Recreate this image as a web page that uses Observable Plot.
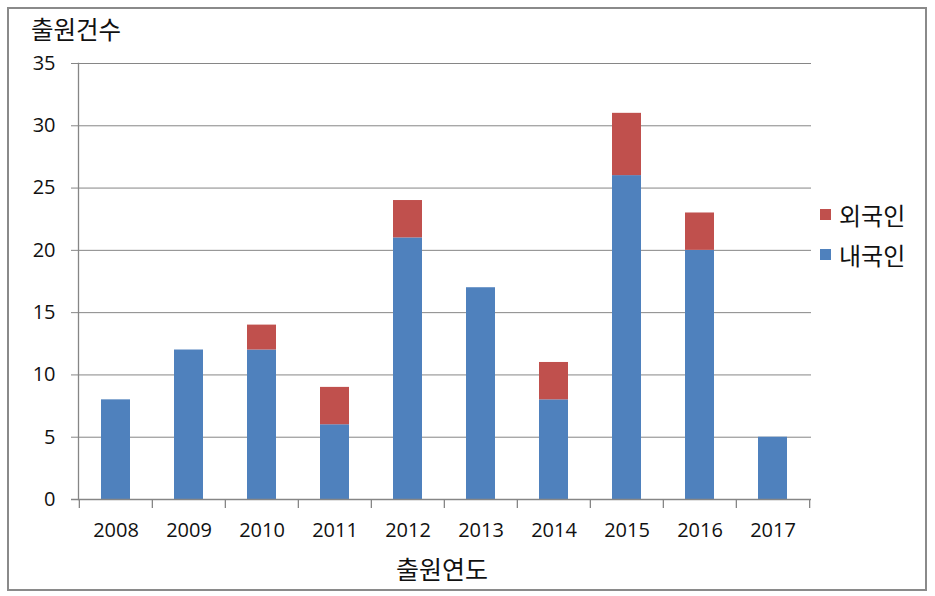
<!DOCTYPE html>
<html><head><meta charset="utf-8">
<script src="https://cdn.jsdelivr.net/npm/d3@7"></script>
<script src="https://cdn.jsdelivr.net/npm/@observablehq/plot@0.6"></script>
<style>
html,body{margin:0;padding:0;background:#fff;}
#wrap{position:relative;width:935px;height:596px;overflow:hidden;font-family:"Noto Sans CJK KR","Noto Sans",sans-serif;color:#111;}
#frame{position:absolute;left:7px;top:7px;width:916px;height:580px;border:2px solid #8a8a8a;box-sizing:content-box;}
#ytitle{position:absolute;left:31px;top:17px;font-size:24.5px;line-height:24px;}
#xtitle{position:absolute;left:0;width:884px;text-align:center;top:554px;font-size:25px;line-height:28px;}
#legend{position:absolute;left:820px;top:199px;font-size:24px;}
.li{display:flex;align-items:center;height:30px;margin-bottom:10px;}
.sw{width:11px;height:11px;margin-right:8px;}
#chart{position:absolute;left:0;top:0;}
</style></head>
<body><div id="wrap"><div id="frame"></div><div id="chart"></div>
<div id="ytitle">출원건수</div><div id="xtitle">출원연도</div>
<div id="legend"></div></div>
<script>
const years = ["2008","2009","2010","2011","2012","2013","2014","2015","2016","2017"];
const domestic = [8,12,12,6,21,17,8,26,20,5];
const foreign = [0,0,2,3,3,0,3,5,3,0];
const seriesNames = ["내국인","외국인"];
const seriesColors = ["#4F81BD","#C0504D"];
const yTicks = [0,5,10,15,20,25,30,35];

const data = [];
years.forEach((y,i)=>{
  data.push({year:y, series:seriesNames[0], value:domestic[i]});
  data.push({year:y, series:seriesNames[1], value:foreign[i]});
});

const W=935,H=596,mL=78,mR=124,mT=63,mB=97;
const step=(W-mL-mR)/10;
const grid="#868686";
const numFont='"Open Sans","Noto Sans",sans-serif';
const plot = Plot.plot({
  width:W,height:H,marginLeft:mL,marginRight:mR,marginTop:mT,marginBottom:mB,
  style:{fontFamily:numFont,fontSize:"20px",color:"#111",background:"transparent"},
  x:{domain:years,paddingInner:0.6,paddingOuter:0.3,label:null},
  y:{domain:[0,35],ticks:yTicks,label:null},
  color:{domain:seriesNames,range:seriesColors},
  marks:[
    Plot.ruleY(yTicks,{stroke:grid,strokeWidth:1,insetLeft:-7}),
    Plot.barY(data,{x:"year",y:"value",fill:"series",order:seriesNames}),
    Plot.frame({anchor:"left",stroke:grid,strokeWidth:1.3}),
    Plot.ruleY([0],{stroke:grid,strokeWidth:1.5,insetLeft:-7}),
    Plot.axisY({ticks:yTicks,tickSize:0,tickPadding:23,fontSize:20,fill:"#111"}),
    Plot.axisX({tickSize:0,tickPadding:23,fontSize:20,fill:"#111",label:null}),
    Plot.axisX({tickSize:9,text:null,dx:-step/2,stroke:grid,strokeWidth:1.3,label:null}),
    Plot.axisX({ticks:[years[years.length-1]],tickSize:9,text:null,dx:step/2,stroke:grid,strokeWidth:1.3,label:null})
  ]
});
document.getElementById("chart").appendChild(plot);

const lg=document.getElementById("legend");
[1,0].forEach(i=>{
  const d=document.createElement("div");d.className="li";
  d.innerHTML=`<div class="sw" style="background:${seriesColors[i]}"></div><span>${seriesNames[i]}</span>`;
  lg.appendChild(d);
});
</script></body></html>
